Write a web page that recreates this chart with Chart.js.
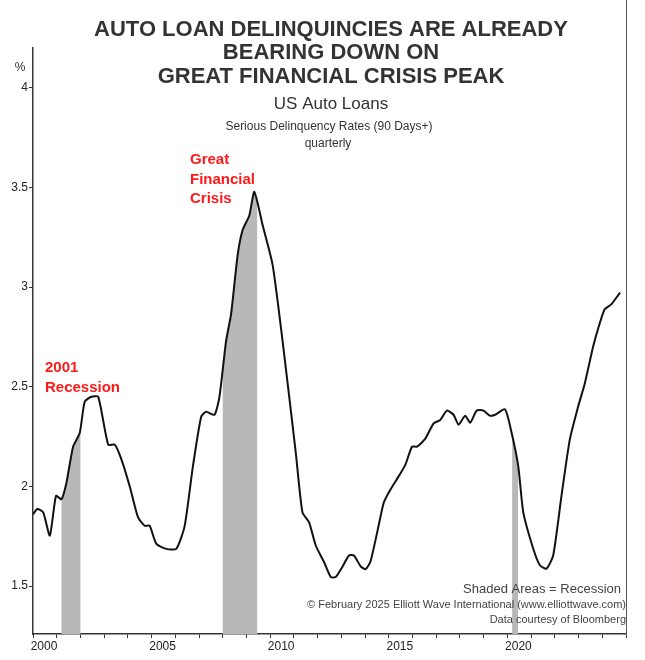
<!DOCTYPE html>
<html lang="en">
<head>
<meta charset="UTF-8">
<title>US Auto Loans</title>
<script src="https://cdn.jsdelivr.net/npm/chart.js"></script>
<style>
    body { margin: 0; padding: 0; background: #fff; }
    #wrap { width: 645px; height: 660px; }
</style>
</head>
<body>
<div id="wrap"><canvas id="autoChart" width="645" height="660"></canvas></div>
<script>
// data (year, % seriously delinquent)
const years = [2000.0, 2000.18, 2000.43, 2000.71, 2000.97, 2001.2, 2001.41, 2001.69, 2001.97, 2002.18, 2002.46, 2002.75,
    2003.17, 2003.45, 2003.73, 2004.08, 2004.43, 2004.71, 2004.92, 2005.2, 2005.62, 2006.04, 2006.39, 2006.74,
    2007.09, 2007.3, 2007.65, 2007.86, 2008.14, 2008.35, 2008.63, 2008.84, 2009.12, 2009.33, 2009.68, 2010.1,
    2010.52, 2011.08, 2011.36, 2011.64, 2011.92, 2012.27, 2012.55, 2012.76, 2013.04, 2013.32, 2013.53, 2013.81,
    2014.02, 2014.23, 2014.51, 2014.79, 2015.07, 2015.42, 2015.7, 2015.98, 2016.19, 2016.54, 2016.89, 2017.17,
    2017.45, 2017.73, 2017.94, 2018.22, 2018.43, 2018.71, 2018.99, 2019.27, 2019.48, 2019.9, 2020.18, 2020.46,
    2020.67, 2021.09, 2021.37, 2021.65, 2021.93, 2022.28, 2022.63, 2022.98, 2023.26, 2023.61, 2023.82, 2024.1,
    2024.38, 2024.75];
const rates = [1.86, 1.887, 1.87, 1.754, 1.953, 1.936, 2.019, 2.2, 2.268, 2.425, 2.45, 2.45,
    2.21, 2.21, 2.135, 2.0, 1.845, 1.803, 1.803, 1.712, 1.687, 1.687, 1.8, 2.1,
    2.35, 2.375, 2.36, 2.45, 2.73, 2.865, 3.163, 3.288, 3.36, 3.478, 3.312, 3.113,
    2.732, 2.168, 1.87, 1.82, 1.704, 1.621, 1.546, 1.546, 1.596, 1.654, 1.654, 1.6,
    1.585, 1.625, 1.77, 1.92, 1.985, 2.052, 2.11, 2.2, 2.2, 2.24, 2.317, 2.334,
    2.381, 2.36, 2.31, 2.355, 2.32, 2.381, 2.381, 2.355, 2.36, 2.387, 2.268, 2.1,
    1.87, 1.688, 1.605, 1.588, 1.654, 1.953, 2.235, 2.4, 2.516, 2.7, 2.79, 2.889,
    2.914, 2.973];
const recessionStart = [2001.2, 2008.0, 2020.2];
const recessionEnd = [2002.0, 2009.45, 2020.45];
const yTicks = [1.5, 2, 2.5, 3, 3.5, 4];

const points = years.map((y, i) => ({ x: y, y: rates[i] }));

// grey area under the curve, only inside recession periods
const recessionFill = {
    id: 'recessionFill',
    beforeDatasetsDraw(chart) {
        const ctx = chart.ctx, xs = chart.scales.x, area = chart.chartArea;
        const line = chart.getDatasetMeta(0).dataset;
        const pts = chart.getDatasetMeta(0).data;
        ctx.save();
        ctx.beginPath();
        recessionStart.forEach((s, i) => {
            const a = xs.getPixelForValue(s), b = xs.getPixelForValue(recessionEnd[i]);
            ctx.rect(a, area.top, b - a, area.bottom - area.top);
        });
        ctx.clip();
        ctx.beginPath();
        line.path(ctx);
        ctx.lineTo(pts[pts.length - 1].x, area.bottom);
        ctx.lineTo(pts[0].x, area.bottom);
        ctx.closePath();
        ctx.fillStyle = '#b8b8b8';
        ctx.fill();
        ctx.restore();
    }
};

// titles and notes
const textLayer = {
    id: 'textLayer',
    afterDraw(chart) {
        const ctx = chart.ctx, area = chart.chartArea;
        ctx.save();
        ctx.fillStyle = '#333';
        ctx.textAlign = 'center';
        ctx.textBaseline = 'middle';
        ctx.font = 'bold 22px "Liberation Sans", Arial, sans-serif';
        ctx.fillText('AUTO LOAN DELINQUINCIES ARE ALREADY', 331, 30);
        ctx.fillText('BEARING DOWN ON', 331, 53);
        ctx.fillText('GREAT FINANCIAL CRISIS PEAK', 331, 77);
        ctx.font = '17px "Liberation Sans", Arial, sans-serif';
        ctx.fillText('US Auto Loans', 331, 104);
        ctx.font = '12px "Liberation Sans", Arial, sans-serif';
        ctx.fillText('Serious Delinquency Rates (90 Days+)', 329, 127);
        ctx.fillText('quarterly', 328, 144);
        ctx.fillText('%', 20, 68);

        ctx.fillStyle = '#ff1a1a';
        ctx.textAlign = 'left';
        ctx.font = 'bold 15px "Liberation Sans", Arial, sans-serif';
        ctx.fillText('Great', 190, 160);
        ctx.fillText('Financial', 190, 180);
        ctx.fillText('Crisis', 190, 199);
        ctx.fillText('2001', 45, 368);
        ctx.fillText('Recession', 45, 388);

        ctx.fillStyle = '#444';
        ctx.textAlign = 'right';
        ctx.font = '13px "Liberation Sans", Arial, sans-serif';
        ctx.fillText('Shaded Areas = Recession', 621, 589);
        ctx.font = '11px "Liberation Sans", Arial, sans-serif';
        ctx.fillText('\u00A9 February 2025 Elliott Wave International (www.elliottwave.com)', 626, 605);
        ctx.fillText('Data courtesy of Bloomberg', 626, 620);

        // right frame line
        ctx.strokeStyle = '#555';
        ctx.lineWidth = 1;
        ctx.beginPath();
        ctx.moveTo(area.right + 0.5, 0);
        ctx.lineTo(area.right + 0.5, area.bottom);
        ctx.stroke();
        ctx.restore();
    }
};

new Chart(document.getElementById('autoChart').getContext('2d'), {
    type: 'line',
    data: {
        datasets: [{
            data: points,
            borderColor: '#111',
            borderWidth: 2,
            pointRadius: 0,
            tension: 0.2,
            fill: false
        }]
    },
    options: {
        responsive: false,
        animation: false,
        layout: { padding: { top: 48, right: 19, left: 0, bottom: 0 } },
        plugins: { legend: { display: false }, tooltip: { enabled: false } },
        scales: {
            x: {
                type: 'linear',
                min: 2000,
                max: 2025.0,
                afterFit(scale) { scale.height = 26; },
                afterBuildTicks(scale) {
                    const t = [];
                    for (let y = 2000; y <= 2025; y++) t.push({ value: y });
                    scale.ticks = t;
                },
                grid: { drawOnChartArea: false, color: '#333', tickLength: 4 },
                border: { color: '#333', width: 1.5 },
                ticks: {
                    color: '#222',
                    font: { size: 12, family: '"Liberation Sans", Arial, sans-serif' },
                    padding: 1,
                    labelOffset: 11,
                    maxRotation: 0,
                    autoSkip: false,
                    callback: v => (v % 5 === 0 && v < 2025) ? String(v) : ''
                }
            },
            y: {
                min: 1.26,
                max: 4.2,
                afterFit(scale) { scale.width = 33; },
                afterBuildTicks(scale) { scale.ticks = yTicks.map(v => ({ value: v })); },
                grid: { drawOnChartArea: false, color: '#333', tickLength: 4 },
                border: { color: '#333', width: 1.5 },
                ticks: {
                    color: '#222',
                    font: { size: 12, family: '"Liberation Sans", Arial, sans-serif' },
                    padding: 1,
                    callback: v => String(v)
                }
            }
        }
    },
    plugins: [recessionFill, textLayer]
});
</script>
</body>
</html>
